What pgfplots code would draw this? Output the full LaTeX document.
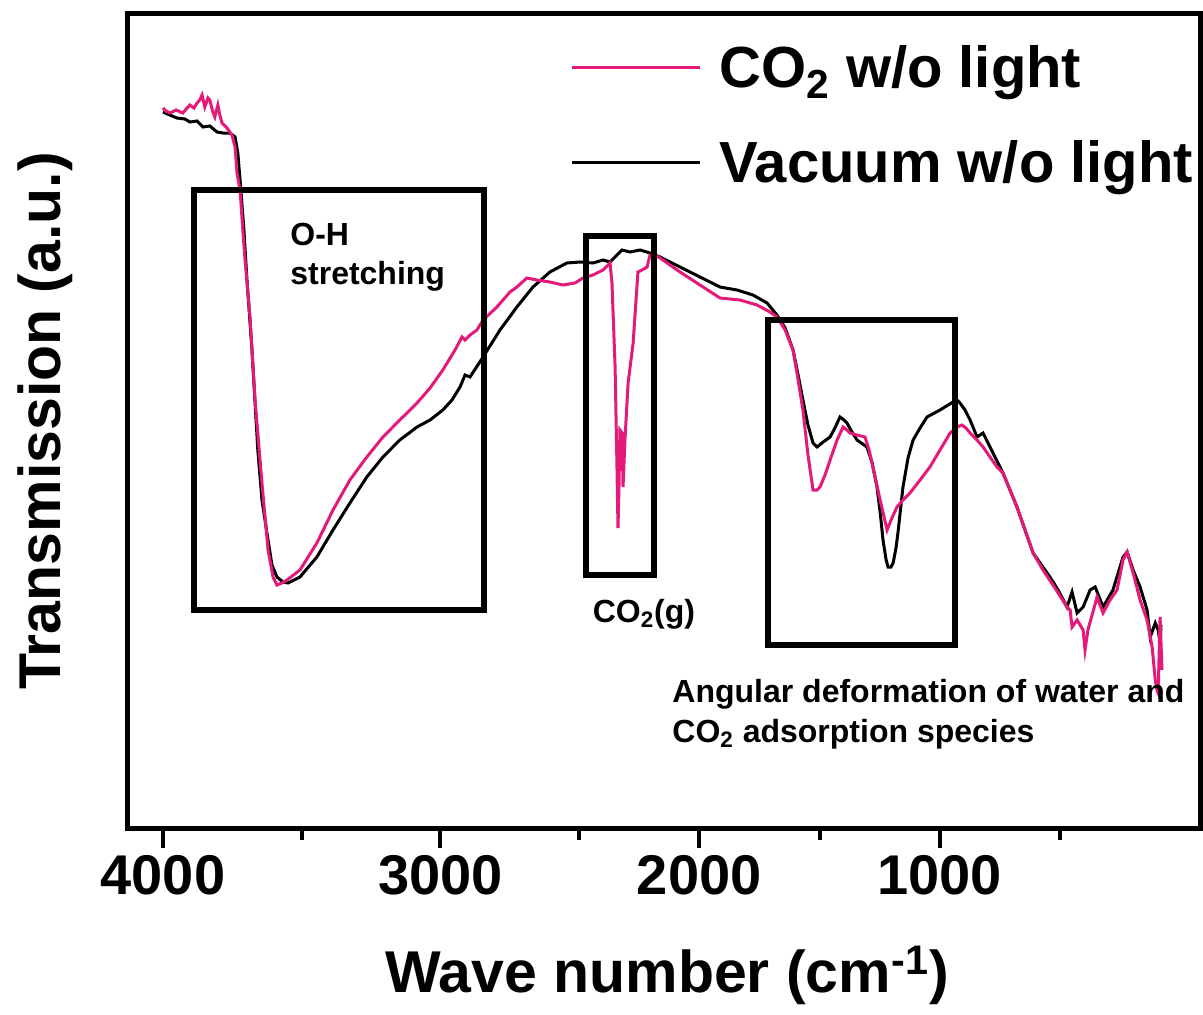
\documentclass[border=0pt]{standalone}
\usepackage{fontspec}
\setmainfont{Liberation Sans}
\usepackage{pgfplots}
\pgfplotsset{compat=1.18}
\definecolor{co2pink}{RGB}{228,26,122}

% Vacuum w/o light
\pgfplotstableread{
x y
4000 716
3975 713
3950 710
3921 709
3903 706
3877 707
3856 701
3831 702
3805 696
3784 695
3758 695
3740 691
3730 675
3719 638
3708 598
3697 548
3679 478
3658 378
3643 328
3625 295
3607 263
3589 251
3567 246
3549 245
3506 251
3445 271
3387 298
3326 325
3265 351
3207 371
3146 388
3084 401
3037 408
2991 418
2958 428
2929 441
2911 453
2893 451
2846 471
2785 498
2724 521
2666 541
2605 556
2544 565
2496 566
2442 565
2400 568
2371 566
2342 573
2321 578
2288 576
2246 578
2205 575
2163 571
2080 561
1997 551
1914 541
1843 538
1777 533
1718 525
1677 513
1643 500
1610 478
1589 453
1569 428
1548 403
1527 385
1510 381
1485 386
1456 391
1436 400
1415 411
1398 408
1386 405
1365 396
1344 388
1303 381
1282 366
1261 341
1248 316
1236 288
1223 268
1215 261
1203 261
1194 265
1182 280
1174 295
1153 341
1132 370
1111 388
1082 400
1053 411
999 418
945 426
928 428
916 425
895 418
874 408
845 391
820 395
791 381
737 355
679 321
612 275
542 251
508 238
471 221
450 236
429 215
404 221
375 238
354 241
321 221
280 238
238 271
221 276
196 258
167 241
138 218
125 191
104 205
92 198
84 185
80 203
}\vacuum

% CO2 w/o light
\pgfplotstableread{
x y
4000 720
3989 717
3975 715
3953 718
3928 715
3913 720
3903 723
3888 720
3877 725
3867 728
3859 733
3849 721
3838 730
3831 728
3820 716
3813 711
3802 723
3795 713
3787 705
3769 700
3751 693
3740 681
3733 655
3722 638
3712 598
3704 568
3686 511
3668 428
3643 345
3621 278
3603 251
3589 243
3571 245
3553 248
3506 258
3445 285
3387 318
3326 348
3265 371
3207 391
3146 408
3084 425
3037 440
2991 458
2947 478
2922 491
2911 488
2893 493
2868 498
2846 508
2796 521
2749 536
2724 541
2688 550
2652 548
2605 546
2558 543
2515 545
2483 550
2442 553
2400 558
2379 563
2371 565
2363 545
2350 461
2342 358
2338 300
2334 338
2330 398
2321 395
2317 341
2309 388
2296 445
2275 485
2263 528
2255 556
2238 558
2217 561
2205 573
2184 573
2163 570
2080 556
1997 543
1914 530
1831 528
1760 523
1706 516
1677 511
1643 498
1610 478
1589 448
1569 418
1548 373
1527 338
1510 338
1498 341
1477 353
1456 368
1427 388
1402 401
1386 398
1373 395
1344 393
1311 391
1294 378
1278 361
1248 328
1219 298
1199 310
1178 321
1153 328
1124 335
1082 348
1041 361
999 378
957 395
928 401
908 403
891 400
874 395
845 388
820 381
791 371
762 361
737 355
679 321
612 275
571 258
521 240
471 221
458 218
450 201
429 208
404 198
396 178
384 198
346 231
321 215
292 228
263 238
238 268
221 276
196 255
167 228
138 208
117 181
104 148
97 138
92 135
84 211
76 158
}\cotwo

\begin{document}
\begin{tikzpicture}
\begin{axis}[
  name=ax,
  scale only axis,
  width=536pt, height=407pt,
  x dir=reverse,
  % the scale below 2500 cm^-1 is compressed
  x coord trafo/.code={\pgfmathparse{(#1)>2500 ? (#1) : 2500-(2500-(#1))*0.867}},
  xmin=-82, xmax=4126,
  ymin=0, ymax=814,
  xtick={4000,3000,2000,1000},
  xticklabels={4000,3000,2000,1000},
  minor xtick={3500,2500,1500,500},
  ytick=\empty,
  xtick pos=lower,
  tick align=outside,
  major tick length=10pt,
  minor tick length=6pt,
  tick style={black, line width=2pt},
  axis line style={line width=2.5pt},
  /pgf/number format/assume math mode=true,
  ticklabel style={font=\bfseries\fontsize{28}{28}\selectfont},
  xlabel={Wave number (cm\textsuperscript{-1})},
  ylabel={Transmission (a.u.)},
  label style={font=\bfseries\fontsize{29.5}{30}\selectfont},
  xlabel style={at={(axis description cs:0.5028,-0.1806)}, anchor=center},
  ylabel style={at={(axis description cs:-0.0774,0.5)}, anchor=center},
  legend style={at={(axis description cs:0.4067,0.972)}, anchor=north west,
    draw=none, fill=none, font=\bfseries\fontsize{29}{29}\selectfont,
    row sep=21pt},
  legend cell align=left,
  reverse legend,
  legend image code/.code={\draw[#1] (0pt,0pt) -- (64pt,0pt); \path (71pt,0pt);},
]
\addplot[black, line width=1.5pt] table[x=x, y=y] {\vacuum};
\addlegendentry{Vacuum w/o light}
\addplot[co2pink, line width=1.5pt] table[x=x, y=y] {\cotwo};
\addlegendentry{CO\textsubscript{2} w/o light}

\draw[line width=3pt] (axis description cs:0.0616,0.2678) rectangle (axis description cs:0.3321,0.7838);
\draw[line width=3pt] (axis description cs:0.4272,0.3108) rectangle (axis description cs:0.4907,0.7273);
\draw[line width=3pt] (axis description cs:0.5970,0.2248) rectangle (axis description cs:0.7715,0.6241);

\node[anchor=north west, align=left, inner sep=0pt,
  font=\bfseries\fontsize{16}{19.5}\selectfont]
  at (axis description cs:0.1511,0.7430) {O-H\\stretching};
\node[anchor=center, inner sep=0pt, font=\bfseries\fontsize{16}{18.5}\selectfont]
  at (axis description cs:0.4813,0.2629) {CO\textsubscript{2}(g)};
\node[anchor=north west, align=left, inner sep=0pt,
  font=\bfseries\fontsize{16}{20}\selectfont]
  at (axis description cs:0.5075,0.1830) {Angular deformation of water and\\CO\textsubscript{2} adsorption species};
\end{axis}
\pgfresetboundingbox
\path[use as bounding box] ([shift={(-64pt,-93pt)}]ax.south west) rectangle ([shift={(1.5pt,7pt)}]ax.north east);
\end{tikzpicture}
\end{document}
